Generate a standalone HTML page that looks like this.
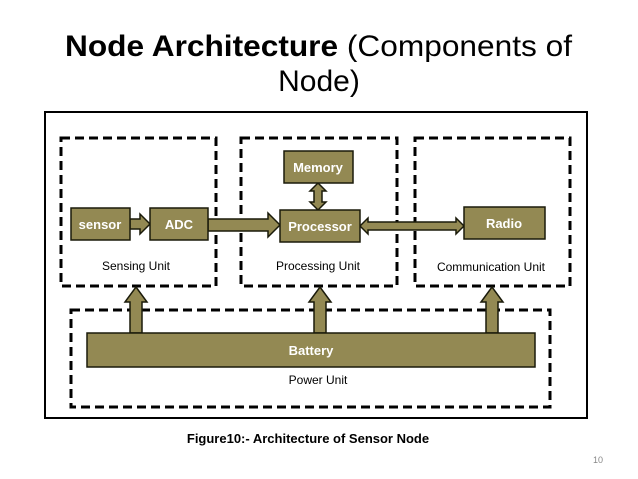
<!DOCTYPE html>
<html><head><meta charset="utf-8"><style>
html,body{margin:0;padding:0;background:#fff;}
svg{display:block;font-family:"Liberation Sans",sans-serif;}
</style></head><body>
<svg width="638" height="479" viewBox="0 0 638 479">
<text x="65" y="56" font-size="30" textLength="507" lengthAdjust="spacingAndGlyphs" fill="#000"><tspan font-weight="bold">Node Architecture</tspan> (Components of</text>
<text x="319" y="91" font-size="30" text-anchor="middle" fill="#000">Node)</text>
<rect x="45" y="112" width="542" height="306" fill="none" stroke="#000" stroke-width="2"/>
<g fill="none" stroke="#000" stroke-width="3" stroke-dasharray="9,5">
<rect x="61" y="138" width="155" height="148"/>
<rect x="241" y="138" width="156" height="148"/>
<rect x="415" y="138" width="155" height="148"/>
<rect x="71" y="310" width="479" height="97"/>
</g>
<g fill="#938953" stroke="#1a1a0a" stroke-width="1.5">
<polygon points="130,333 130,302 125,302 136,287 147,302 142,302 142,333"/>
<polygon points="314,333 314,302 309,302 320,287 331,302 326,302 326,333"/>
<polygon points="486,333 486,302 481,302 492,287 503,302 498,302 498,333"/>
<polygon points="130,219 140,219 140,214 150,224 140,234 140,229 130,229"/>
<polygon points="208,219 268,219 268,213 280,225 268,237 268,231 208,231"/>
<polygon points="360,226 368,218 368,222 456,222 456,218 464,226 456,234 456,230 368,230 368,234"/>
<polygon points="318,183 326,191 322,191 322,202 326,202 318,210 310,202 314,202 314,191 310,191"/>
<rect x="71" y="208" width="59" height="32"/>
<rect x="150" y="208" width="58" height="32"/>
<rect x="280" y="210" width="80" height="32"/>
<rect x="284" y="151" width="69" height="32"/>
<rect x="464" y="207" width="81" height="32"/>
<rect x="87" y="333" width="448" height="34"/>
</g>
<g fill="#fff" font-weight="bold" font-size="13" text-anchor="middle">
<text x="100" y="229">sensor</text>
<text x="179" y="229">ADC</text>
<text x="320" y="231">Processor</text>
<text x="318" y="172">Memory</text>
<text x="504" y="228">Radio</text>
<text x="311" y="355">Battery</text>
</g>
<g fill="#000" font-size="12" text-anchor="middle">
<text x="136" y="270">Sensing Unit</text>
<text x="318" y="270">Processing Unit</text>
<text x="491" y="271">Communication Unit</text>
<text x="318" y="384">Power Unit</text>
</g>
<text x="308" y="443" font-size="13" font-weight="bold" text-anchor="middle">Figure10:- Architecture of Sensor Node</text>
<text x="603" y="463" font-size="9" fill="#888" text-anchor="end">10</text>
</svg>
</body></html>
